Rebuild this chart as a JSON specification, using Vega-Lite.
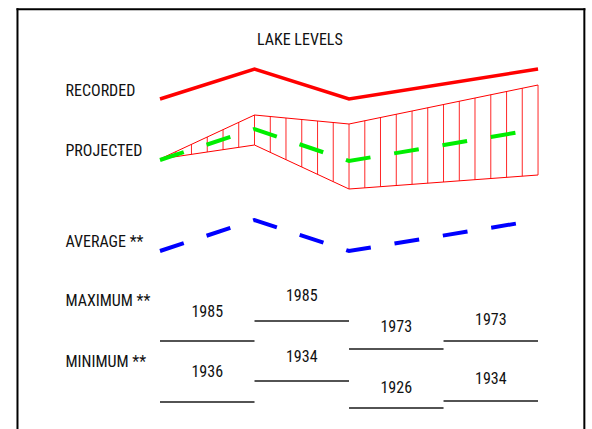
{
  "$schema": "https://vega.github.io/schema/vega-lite/v6.json",
  "width": 592,
  "height": 429,
  "autosize": {"type": "none"},
  "padding": 0,
  "background": "white",
  "config": {"view": {"stroke": null}},
  "datasets": {
    "frame": [
      {"x": -1.508, "x2": -1.508, "y": 44.97, "y2": 2.0},
      {"x": -1.508, "x2": 4.49, "y": 44.97, "y2": 44.97},
      {"x": 4.49, "x2": 4.49, "y": 44.97, "y2": 2.0}
    ],
    "recorded": [
      {"period": 0, "level": 36.0},
      {"period": 1, "level": 39.0},
      {"period": 2, "level": 36.0},
      {"period": 4, "level": 39.0}
    ],
    "band": [
      {"edge": "upper", "period": 0, "level": 30.0},
      {"edge": "upper", "period": 1, "level": 34.4},
      {"edge": "upper", "period": 2, "level": 33.5},
      {"edge": "upper", "period": 4, "level": 37.4},
      {"edge": "lower", "period": 0, "level": 30.0},
      {"edge": "lower", "period": 1, "level": 31.4},
      {"edge": "lower", "period": 2, "level": 27.0},
      {"edge": "lower", "period": 4, "level": 28.4}
    ],
    "hatch": [
      {"period": 0.167, "top": 30.73, "bottom": 30.23},
      {"period": 0.333, "top": 31.47, "bottom": 30.47},
      {"period": 0.5, "top": 32.2, "bottom": 30.7},
      {"period": 0.667, "top": 32.93, "bottom": 30.93},
      {"period": 0.833, "top": 33.67, "bottom": 31.17},
      {"period": 1.0, "top": 34.4, "bottom": 31.4},
      {"period": 1.167, "top": 34.25, "bottom": 30.67},
      {"period": 1.333, "top": 34.1, "bottom": 29.93},
      {"period": 1.5, "top": 33.95, "bottom": 29.2},
      {"period": 1.667, "top": 33.8, "bottom": 28.47},
      {"period": 1.833, "top": 33.65, "bottom": 27.73},
      {"period": 2.0, "top": 33.5, "bottom": 27.0},
      {"period": 2.167, "top": 33.83, "bottom": 27.12},
      {"period": 2.333, "top": 34.15, "bottom": 27.23},
      {"period": 2.5, "top": 34.48, "bottom": 27.35},
      {"period": 2.667, "top": 34.8, "bottom": 27.47},
      {"period": 2.833, "top": 35.13, "bottom": 27.58},
      {"period": 3.0, "top": 35.45, "bottom": 27.7},
      {"period": 3.167, "top": 35.78, "bottom": 27.82},
      {"period": 3.333, "top": 36.1, "bottom": 27.93},
      {"period": 3.5, "top": 36.43, "bottom": 28.05},
      {"period": 3.667, "top": 36.75, "bottom": 28.17},
      {"period": 3.833, "top": 37.08, "bottom": 28.28},
      {"period": 4.0, "top": 37.4, "bottom": 28.4}
    ],
    "projected": [
      {"period": 0, "level": 29.9},
      {"period": 1, "level": 33.0},
      {"period": 2, "level": 29.8},
      {"period": 4, "level": 33.0}
    ],
    "average": [
      {"period": 0, "level": 20.8},
      {"period": 1, "level": 23.9},
      {"period": 2, "level": 20.8},
      {"period": 4, "level": 23.9}
    ],
    "extremes": [
      {"kind": "max", "start": 0, "end": 1, "mid": 0.5, "level": 11.8, "labelLevel": 14.7, "year": "1985"},
      {"kind": "max", "start": 1, "end": 2, "mid": 1.5, "level": 13.8, "labelLevel": 16.3, "year": "1985"},
      {"kind": "max", "start": 2, "end": 3, "mid": 2.5, "level": 11.0, "labelLevel": 13.2, "year": "1973"},
      {"kind": "max", "start": 3, "end": 4, "mid": 3.5, "level": 11.8, "labelLevel": 13.9, "year": "1973"},
      {"kind": "min", "start": 0, "end": 1, "mid": 0.5, "level": 5.7, "labelLevel": 8.7, "year": "1936"},
      {"kind": "min", "start": 1, "end": 2, "mid": 1.5, "level": 7.8, "labelLevel": 10.2, "year": "1934"},
      {"kind": "min", "start": 2, "end": 3, "mid": 2.5, "level": 5.1, "labelLevel": 7.1, "year": "1926"},
      {"kind": "min", "start": 3, "end": 4, "mid": 3.5, "level": 5.8, "labelLevel": 8.0, "year": "1934"}
    ],
    "rowLabels": [
      {"label": "RECORDED", "pos": -1.0, "level": 36.8},
      {"label": "PROJECTED", "pos": -1.0, "level": 30.8},
      {"label": "AVERAGE **", "pos": -1.0, "level": 21.7},
      {"label": "MAXIMUM **", "pos": -1.0, "level": 15.8},
      {"label": "MINIMUM **", "pos": -1.0, "level": 9.7}
    ],
    "title": [
      {"label": "LAKE LEVELS", "pos": 1.48, "level": 41.9}
    ]
  },
  "layer": [
    {
      "data": {"name": "frame"},
      "mark": {"type": "rule", "color": "#000000", "strokeWidth": 2, "strokeCap": "square"},
      "encoding": {
        "x": {"field": "x", "type": "quantitative", "scale": {"domain": [-1.693, 4.571], "nice": false, "zero": false}, "axis": null},
        "x2": {"field": "x2"},
        "y": {"field": "y", "type": "quantitative", "scale": {"domain": [3.0, 45.9], "nice": false, "zero": false}, "axis": null},
        "y2": {"field": "y2"}
      }
    },
    {
      "data": {"name": "hatch"},
      "mark": {"type": "rule", "color": "#ff0000", "strokeWidth": 1, "opacity": 0.85},
      "encoding": {
        "x": {"field": "period", "type": "quantitative"},
        "y": {"field": "top", "type": "quantitative"},
        "y2": {"field": "bottom"}
      }
    },
    {
      "data": {"name": "band"},
      "mark": {"type": "line", "color": "#ff0000", "strokeWidth": 1},
      "encoding": {
        "x": {"field": "period", "type": "quantitative"},
        "y": {"field": "level", "type": "quantitative"},
        "detail": {"field": "edge"}
      }
    },
    {
      "data": {"name": "recorded"},
      "mark": {"type": "line", "color": "#ff0000", "strokeWidth": 3.5},
      "encoding": {
        "x": {"field": "period", "type": "quantitative"},
        "y": {"field": "level", "type": "quantitative"}
      }
    },
    {
      "data": {"name": "projected"},
      "mark": {"type": "line", "color": "#00ee00", "strokeWidth": 4, "strokeDash": [25, 24]},
      "encoding": {
        "x": {"field": "period", "type": "quantitative"},
        "y": {"field": "level", "type": "quantitative"}
      }
    },
    {
      "data": {"name": "average"},
      "mark": {"type": "line", "color": "#0000ff", "strokeWidth": 4, "strokeDash": [25, 24]},
      "encoding": {
        "x": {"field": "period", "type": "quantitative"},
        "y": {"field": "level", "type": "quantitative"}
      }
    },
    {
      "data": {"name": "extremes"},
      "mark": {"type": "rule", "color": "#1a1a1a", "strokeWidth": 1.6},
      "encoding": {
        "x": {"field": "start", "type": "quantitative"},
        "x2": {"field": "end"},
        "y": {"field": "level", "type": "quantitative"}
      }
    },
    {
      "data": {"name": "extremes"},
      "mark": {"type": "text", "font": "Roboto Condensed, Liberation Sans", "fontSize": 16, "color": "#111111", "align": "center", "baseline": "middle"},
      "encoding": {
        "x": {"field": "mid", "type": "quantitative"},
        "y": {"field": "labelLevel", "type": "quantitative"},
        "text": {"field": "year"}
      }
    },
    {
      "data": {"name": "rowLabels"},
      "mark": {"type": "text", "font": "Roboto Condensed, Liberation Sans", "fontSize": 16, "color": "#111111", "align": "left", "baseline": "middle"},
      "encoding": {
        "x": {"field": "pos", "type": "quantitative"},
        "y": {"field": "level", "type": "quantitative"},
        "text": {"field": "label"}
      }
    },
    {
      "data": {"name": "title"},
      "mark": {"type": "text", "font": "Roboto Condensed, Liberation Sans", "fontSize": 16, "color": "#111111", "align": "center", "baseline": "middle"},
      "encoding": {
        "x": {"field": "pos", "type": "quantitative"},
        "y": {"field": "level", "type": "quantitative"},
        "text": {"field": "label"}
      }
    }
  ]
}
